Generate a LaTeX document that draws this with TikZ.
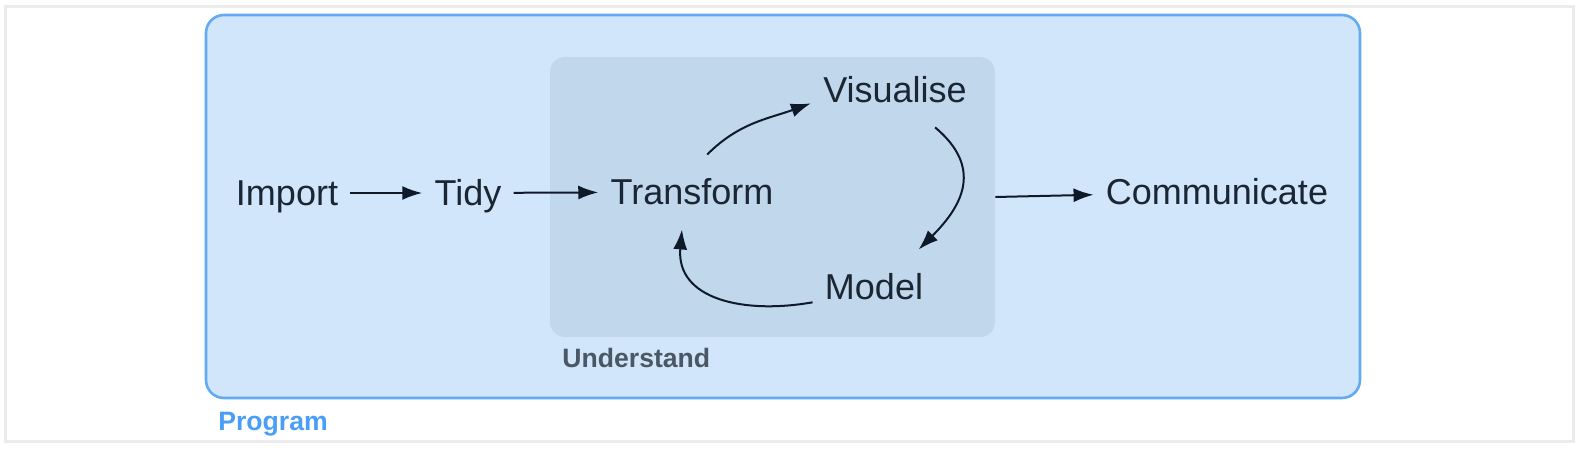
\documentclass[tikz,border=0pt]{standalone}
\usepackage{fontspec}
\setmainfont{Liberation Sans}
\usetikzlibrary{arrows.meta}
\definecolor{progfill}{RGB}{209,230,250}
\definecolor{progline}{RGB}{98,170,242}
\definecolor{progtext}{RGB}{74,158,245}
\definecolor{undfill}{RGB}{193,215,236}
\definecolor{undtext}{RGB}{75,87,101}
\definecolor{inktext}{RGB}{27,38,52}
\definecolor{inkline}{RGB}{14,26,42}
\definecolor{framegray}{RGB}{235,235,235}
\begin{document}
\begin{tikzpicture}[x=.5pt,y=.5pt,>={Latex[length=10pt,width=7pt]},
    stage/.style={anchor=base,inner xsep=6pt,inner ysep=12pt,text height=13pt,text depth=0pt,font=\fontsize{18}{20}\selectfont,text=inktext},
    flow/.style={->,line width=1pt,draw=inkline},
    boxlabel/.style={anchor=base west,inner sep=0pt,font=\fontsize{13.3}{15}\selectfont\bfseries}]
        \useasboundingbox(0,0)rectangle(1579,450);
        \draw[framegray,line width=1.5pt](5,443)rectangle(1573,9);
        \draw[progline,fill=progfill,line width=1.3pt,rounded corners=9pt](206,435)rectangle(1360,52);
        \node[fill=undfill,rounded corners=7.5pt,minimum width=222.5pt,minimum height=140pt,inner sep=0pt](understand)at(772.5,253){};
        \node[boxlabel,text=undtext](understandlbl)at(562,83){Understand};
        \node[boxlabel,text=progtext](programlbl)at(218,20){Program};
        \node[stage](import)at(287,244){Import};
        \node[stage](tidy)at(468,244){Tidy};
        \node[stage](transform)at(692,245){Transform};
        \node[stage](visualise)at(895,347){Visualise};
        \node[stage](model)at(874,150){Model};
        \node[stage](communicate)at(1217,245){Communicate};
        \draw[flow](import)--(tidy);
        \draw[flow](tidy)--(transform);
        \draw[flow](transform.68)to[out=45,in=200](visualise.189);
        \draw[flow](visualise.-43)to[out=-40,in=45,looseness=1.3](model.40);
        \draw[flow](model.194)to[out=190,in=-95,looseness=1.2](transform.255);
        \draw[flow](understand.east)--(communicate);
    \end{tikzpicture}
\end{document}
